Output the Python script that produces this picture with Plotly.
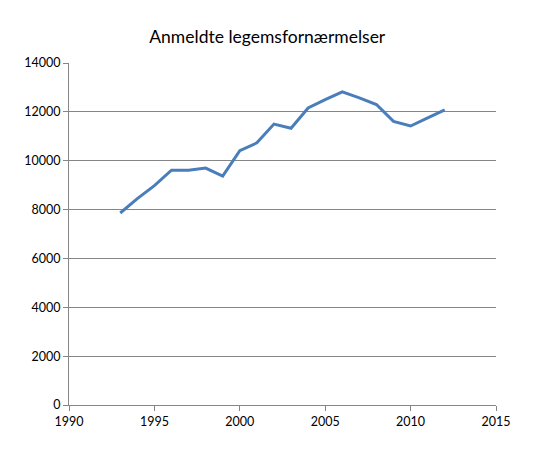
import plotly.graph_objects as go

years = [1993, 1994, 1995, 1996, 1997, 1998, 1999, 2000, 2001, 2002,
         2003, 2004, 2005, 2006, 2007, 2008, 2009, 2010, 2011, 2012]
reports = [7860, 8450, 8980, 9610, 9610, 9700, 9370, 10410, 10730, 11500,
           11330, 12160, 12500, 12820, 12570, 12300, 11610, 11420, 11750, 12080]

x_ticks = [1990, 1995, 2000, 2005, 2010, 2015]
y_ticks = [0, 2000, 4000, 6000, 8000, 10000, 12000, 14000]
y_labels = ["0", "2000", "4000", "6000", "8000", "10000", "12000", "14000"]

fig = go.Figure()
fig.add_trace(go.Scatter(
    x=years, y=reports, mode="lines",
    line=dict(color="#4A7EBB", width=3),
    showlegend=False,
))

# the page body adds ~8px offset, so margins are shifted to compensate
fig.update_layout(
    width=560, height=460,
    paper_bgcolor="white", plot_bgcolor="white",
    title=dict(text="Anmeldte legemsfornærmelser", x=0.463, xanchor="center",
               y=0.937, yanchor="middle",
               font=dict(family="Lato, Open Sans, sans-serif", size=17.5, color="black")),
    font=dict(family="Lato, Open Sans, sans-serif", size=12.5, color="black"),
    margin=dict(l=61, r=72, t=55, b=63),
)
fig.update_xaxes(
    range=[1990, 2015], tickvals=x_ticks, showgrid=False,
    showline=True, linecolor="#868686", linewidth=1,
    ticks="outside", ticklen=5, tickcolor="#868686", zeroline=False,
)
fig.update_yaxes(
    range=[0, 14000], tickvals=y_ticks, ticktext=y_labels, showgrid=True,
    gridcolor="#868686", gridwidth=1,
    showline=True, linecolor="#868686", linewidth=1,
    ticks="outside", ticklen=5, tickcolor="#868686", zeroline=False,
)

fig.write_html("out.html")
